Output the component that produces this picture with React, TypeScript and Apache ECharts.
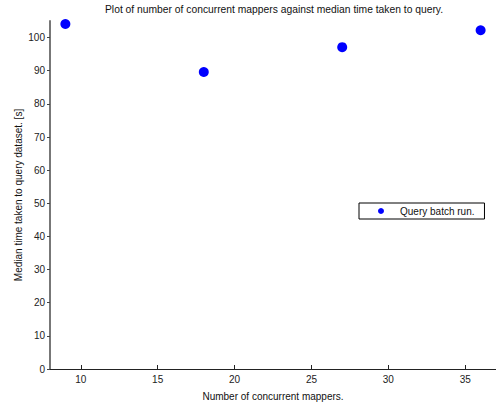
import React, { useEffect, useRef } from "react";
import * as echarts from "echarts";

const mappers = [9, 18, 27, 36];
const medianTimes = [104.1, 89.6, 97.1, 102.2];
const xTicks = [10, 15, 20, 25, 30, 35];
const yTicks = [0, 10, 20, 30, 40, 50, 60, 70, 80, 90, 100];

const FONT = "Liberation Sans, Arial, Helvetica, sans-serif";

export default function App() {
  const ref = useRef<HTMLDivElement>(null);
  useEffect(() => {
    if (!ref.current) return;
    const chart = echarts.init(ref.current, undefined, { renderer: "svg" });
    chart.setOption({
      animation: false,
      backgroundColor: "#ffffff",
      textStyle: { fontFamily: FONT },
      title: {
        text: "Plot of number of concurrent mappers against median time taken to query.",
        left: 105,
        top: 4,
        padding: 0,
        textStyle: { fontSize: 10.3, fontWeight: "normal", color: "#111", fontFamily: FONT },
      },
      grid: { left: 50, right: 0, top: 21, bottom: 33, containLabel: false },
      legend: {
        left: 359,
        top: 203,
        orient: "horizontal",
        icon: "circle",
        itemWidth: 6,
        itemHeight: 6,
        padding: [3, 10, 3, 19],
        borderColor: "#000",
        borderWidth: 1,
        backgroundColor: "#fff",
        borderRadius: 0,
        textStyle: { fontSize: 10, color: "#111", fontFamily: FONT, padding: [0, 0, 0, 11] },
        data: ["Query batch run."],
      },
      xAxis: {
        type: "value",
        min: 8,
        max: 37,
        name: "Number of concurrent mappers.",
        nameLocation: "middle",
        nameGap: 22,
        nameMoveOverlap: false,
        nameTextStyle: { fontSize: 10, color: "#111", fontFamily: FONT },
        axisLine: { lineStyle: { color: "#222", width: 1 } },
        axisTick: { inside: true, length: 4, customValues: xTicks, lineStyle: { color: "#222" } },
        axisLabel: { customValues: xTicks, fontSize: 10, color: "#222", margin: 5, fontFamily: FONT },
        splitLine: { show: false },
      },
      yAxis: {
        type: "value",
        min: 0,
        max: 105,
        name: "Median time taken to query dataset. [s]",
        nameLocation: "middle",
        nameGap: 27,
        nameMoveOverlap: false,
        nameTextStyle: { fontSize: 10, color: "#111", fontFamily: FONT },
        axisLine: { lineStyle: { color: "#777", width: 2 } },
        axisTick: { inside: false, length: 3, customValues: yTicks, lineStyle: { color: "#444" } },
        axisLabel: { customValues: yTicks, fontSize: 10, color: "#222", margin: 5, fontFamily: FONT },
        splitLine: { show: false },
      },
      series: [
        {
          name: "Query batch run.",
          type: "scatter",
          symbol: "circle",
          symbolSize: 10,
          itemStyle: { color: "#0000ff", opacity: 1 },
          data: mappers.map((m, i) => [m, medianTimes[i]]),
        },
      ],
    });
    return () => chart.dispose();
  }, []);
  return <div ref={ref} style={{ width: 496, height: 406, position: "absolute", left: 0, top: 0 }} />;
}
